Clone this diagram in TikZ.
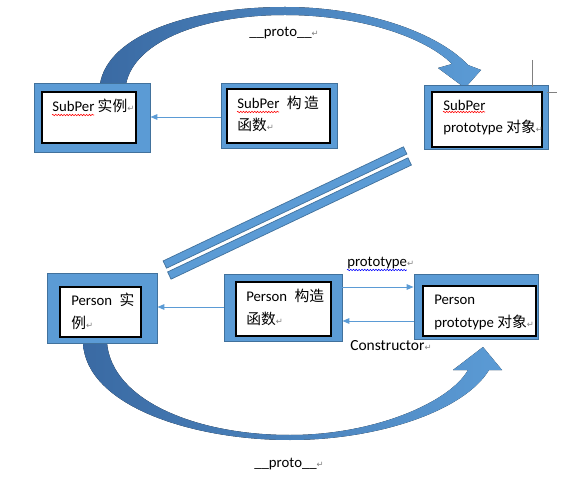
\documentclass[tikz,border=0pt]{standalone}
\usepackage{fontspec}
\setmainfont{Carlito}
\newfontfamily\cjk{Noto Sans CJK SC}
\newfontfamily\symf{DejaVu Sans}
\usetikzlibrary{arrows.meta,decorations.pathmorphing}
\definecolor{bb}{HTML}{5B9BD5}
\definecolor{bd}{HTML}{41719C}
\definecolor{ad}{HTML}{3A6AA3}
\newcommand\parmk{{\symf\color{gray}\fontsize{6}{6}\selectfont ↵}}
\newlength\spw
\newlength\ptw
\tikzset{ob/.style={draw=bd, fill=bb, line width=0.6pt, inner sep=0}}
\tikzset{ib/.style={draw=black, fill=white, line width=0.9pt, inner sep=0}}
\tikzset{tx/.style={anchor=base west, align=left, inner sep=0, font=\fontsize{10.5}{16}\selectfont}}
\tikzset{ln/.style={draw=bb, line width=0.7pt, -{Triangle[length=5pt,width=4pt]}}}
\tikzset{bar/.style={draw=bd, fill=bb, line width=0.5pt, minimum width=6.65cm, minimum height=0.2cm, inner sep=0, rotate=25.4}}
\tikzset{bow/.style={draw=none, left color=ad, right color=bb}}
\tikzset{wave/.style={line width=0.4pt, decorate, decoration={snake, amplitude=0.5pt, segment length=2pt}}}

\begin{document}
\settowidth{\spw}{\fontsize{10.5}{16}\selectfont SubPer}
\settowidth{\ptw}{\fontsize{10.5}{16}\selectfont prototype}
\begin{tikzpicture}[x=0.025cm,y=-0.025cm]
\useasboundingbox (0,0) rectangle (565,478);
% big curved arrows
\fill[bow] (100,84) .. controls (108,35) and (190,7) .. (285,7)
  .. controls (370,7) and (440,35) .. (468,65)
  -- (481,70) -- (465,88) -- (438,68) -- (452,64)
  .. controls (425,37) and (360,15) .. (285,15)
  .. controls (205,15) and (135,40) .. (126,84) -- cycle;
\fill[bow] (83,343) .. controls (86,405) and (190,440) .. (290,440)
  .. controls (380,440) and (465,410) .. (489,370)
  -- (502,370) -- (483,347) -- (453,370) -- (468,370)
  .. controls (450,402) and (375,435) .. (290,435)
  .. controls (195,435) and (112,400) .. (107,343) -- cycle;
% SubPer
\node[ob, minimum width=2.9cm, minimum height=1.725cm] (si) at (92,117.5) {};
\node[ib, minimum width=2.35cm, minimum height=1.275cm] (sii) at (89,117.5) {};
\node[ob, minimum width=2.9cm, minimum height=1.625cm] (sc) at (279,115.5) {};
\node[ib, minimum width=2.575cm, minimum height=1.35cm] (sci) at (278.5,116) {};
\node[ob, minimum width=3.1cm, minimum height=1.6cm] (sp) at (486,117) {};
\node[ib, minimum width=2.75cm, minimum height=1.375cm] (spi) at (487,119.5) {};
\node[tx] (sit) at (52,112) {SubPer {\cjk 实例}\parmk};
\node[tx] (sct) at (237,131) {SubPer\enspace{\cjk 构\,造}\\{\cjk 函数}\parmk};
\node[tx] (spt) at (443,133) {SubPer\\prototype {\cjk 对象}\parmk};
\draw[wave, red] (sit.west |- 0,115) -- ++(\spw,0pt);
\draw[wave, red] (sct.west |- 0,112) -- ++(\spw,0pt);
\draw[wave, red] (spt.west |- 0,112) -- ++(\spw,0pt);
% Person
\node[ob, minimum width=2.75cm, minimum height=1.75cm] (pi) at (102,308) {};
\node[ib, minimum width=2.025cm, minimum height=1.25cm] (pii) at (100.5,312) {};
\node[ob, minimum width=2.95cm, minimum height=1.675cm] (pc) at (283,307.5) {};
\node[ib, minimum width=2.375cm, minimum height=1.35cm] (pci) at (283.5,309) {};
\node[ob, minimum width=3.1cm, minimum height=1.625cm] (pp) at (476,306.5) {};
\node[ib, minimum width=2.825cm, minimum height=1.25cm] (ppi) at (479.5,311) {};
\node[tx] (pit) at (71,328) {Person\enspace{\cjk 实}\\{\cjk 例}\parmk};
\node[tx] (pct) at (246,324) {Person\enspace{\cjk 构造}\\{\cjk 函数}\parmk};
\node[tx] (ppt) at (434,327) {Person\\prototype {\cjk 对象}\parmk};
% bars
\node[bar] (b1) at (285,207.5) {};
\node[bar] (b2) at (289.5,218.5) {};
% thin arrows
\draw[ln] (sc.west |- 0,117) -- (si.east |- 0,117);
\draw[ln] (pc.west |- 0,307) -- (pi.east |- 0,307);
\draw[ln] (pc.east |- 0,287) -- (pp.west |- 0,287);
\draw[ln] (pp.west |- 0,321) -- (pc.east |- 0,321);
% labels
\node[tx] (l1) at (249,37) {\_\_proto\_\_\parmk};
\node[tx] (l2) at (347,267) {prototype\parmk};
\draw[wave, blue] (l2.west |- 0,270) -- ++(\ptw,0pt);
\node[tx, font=\fontsize{11}{13}\selectfont] (l3) at (350,350) {Constructor\parmk};
\node[tx] (l4) at (254,467) {\_\_proto\_\_\parmk};
% marks
\draw[gray, line width=0.4pt] (532,60) -- (532,87);
\draw[gray, line width=0.4pt] (547,92) -- (557,92);
\end{tikzpicture}
\end{document}
